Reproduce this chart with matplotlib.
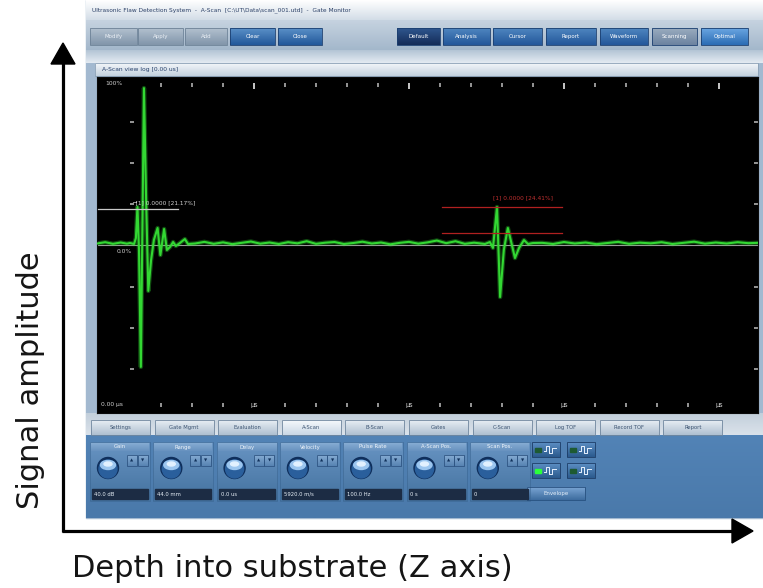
import numpy as np
import matplotlib
matplotlib.use("Agg")
import matplotlib.pyplot as plt
from matplotlib.patches import Rectangle, Circle, Ellipse, Polygon
from matplotlib.colors import LinearSegmentedColormap

# ---------------- data (A-scan trace, x in divisions, y in % amplitude) ----------------
pre_x = [-0.06, 0.20, 0.45, 0.70, 0.90, 1.00]
pre_y = [1.2, 2.0, 1.0, 1.8, 1.1, 1.5]

echo1_x = [1.13, 1.19, 1.24, 1.29, 1.35, 1.45, 1.52, 1.59, 1.68, 1.77, 1.89, 1.98,
           2.10, 2.19, 2.29, 2.39, 2.48, 2.61, 2.77, 2.87]
echo1_y = [0.9, 4.5, 23.3, -2.7, -73.5, 95.3, 27.5, -27.5, -8.8, 3.3, 10.6, -5.8,
           10.0, -2.7, -0.9, 2.1, -0.3, 1.5, 3.9, 0.9]

mid_x = [3.1, 3.4, 3.7, 4.0, 4.3, 4.6, 4.9, 5.2, 5.5, 5.8, 6.1, 6.4, 6.7, 7.0, 7.3, 7.6,
         7.9, 8.2, 8.5, 8.8, 9.1, 9.4, 9.7, 10.0, 10.3, 10.6, 10.9, 11.2, 11.5, 11.8, 12.1]
mid_y = [1.2, 2.2, 1.0, 1.9, 0.8, 1.6, 2.4, 1.1, 1.8, 0.9, 2.0, 1.3, 2.6, 1.0, 1.7, 2.1,
         0.9, 1.5, 2.3, 1.2, 1.8, 0.7, 1.6, 2.2, 1.1, 1.9, 3.0, 1.4, 2.6, 1.0, 1.7]

echo2_x = [12.45, 12.61, 12.71, 12.84, 12.94, 13.06, 13.19, 13.32, 13.42, 13.55, 13.71, 13.84, 14.00]
echo2_y = [0.9, 2.1, -1.5, 23.3, -31.2, -2.7, 10.6, 0.3, -7.6, -1.5, 3.3, 0.9, 1.5]

post_x = [14.30, 14.65, 15.00, 15.35, 15.70, 16.05, 16.40, 16.75, 17.10, 17.45, 17.80,
          18.15, 18.50, 18.85, 19.20, 19.55, 19.90, 20.25, 20.60, 20.95, 21.26]
post_y = [1.6, 0.9, 2.1, 1.2, 1.8, 0.8, 1.5, 2.2, 1.0, 1.7, 1.3, 2.0, 0.9, 1.6, 2.3,
          1.1, 1.8, 1.2, 2.0, 1.4, 1.6]

# gates: level (%), start, end (divisions)
gate1_level, gate1_start, gate1_end = 22.1, -0.03, 2.55
gate2_level, gate2_low, gate2_start, gate2_end = 23.3, 7.6, 11.06, 14.94
gate1_label = "\u2500[1] 0.0000 [21.17%]"
gate2_label = "[1] 0.0000 [24.41%]"

x_ticks = list(range(2, 21))
x_major = [5, 10, 15, 20]
y_ticks = [-75, -50, -25, 25, 50, 75]

tab_labels = ["Settings", "Gate Mgmt", "Evaluation", "A-Scan", "B-Scan", "Gates",
              "C-Scan", "Log TOF", "Record TOF", "Report"]
knob_labels = ["Gain", "Range", "Delay", "Velocity", "Pulse Rate", "A-Scan Pos.", "Scan Pos."]
knob_values = ["40.0 dB", "44.0 mm", "0.0 us", "5920.0 m/s", "100.0 Hz", "0 s", "0"]
left_buttons = ["Modify", "Apply", "Add", "Clear", "Close"]
right_buttons = ["Default", "Analysis", "Cursor", "Report", "Waveform", "Scanning", "Optimal"]

# ---------------- figure ----------------
W, H = 763, 588
fig = plt.figure(figsize=(W / 100, H / 100), dpi=100)
fig.patch.set_facecolor("white")
bg = fig.add_axes([0, 0, 1, 1])
bg.axis("off")


def grad(x0, y0, x1, y1, c_top, c_bot, z=1):
    cmap = LinearSegmentedColormap.from_list("g", [c_top, c_bot])
    bg.imshow(np.linspace(0, 1, 64)[:, None], cmap=cmap, extent=(x0, x1, y1, y0),
              aspect="auto", origin="upper", zorder=z, interpolation="bilinear")


def box(x0, y0, x1, y1, c_top, c_bot, ec=None, z=2, lw=0.6):
    grad(x0, y0, x1, y1, c_top, c_bot, z)
    if ec:
        bg.add_patch(Rectangle((x0, y0), x1 - x0, y1 - y0, fill=False, ec=ec, lw=lw, zorder=z + 0.1))


# panel body
bg.add_patch(Rectangle((86, 0), W - 86, 518, color="#a3b9d0", zorder=0.5))
grad(86, 0, W, 20, "#ffffff", "#d3dde7", 1)
grad(86, 20, W, 50, "#c6d3e0", "#a3b7cb", 1)
grad(86, 50, W, 63, "#b3c4d5", "#e4ebf2", 1)
bg.text(92, 10, "Ultrasonic Flaw Detection System  -  A-Scan  [C:\\UT\\Data\\scan_001.utd]  -  Gate Monitor",
        fontsize=4.2, color="#2a3f66", va="center", zorder=5)

# top buttons
lb = [(90, 137), (138, 183), (185, 227), (230, 275), (278, 322)]
for i, ((a, b), t) in enumerate(zip(lb, left_buttons)):
    if i < 3:
        box(a, 28, b, 45, "#b3c1cf", "#8195aa", "#6d8297", 2)
        tc = "#e9eef4"
    else:
        box(a, 28, b, 45, "#5a90c8", "#22589a", "#1b3f70", 2)
        tc = "white"
    bg.text((a + b) / 2, 36.5, t, fontsize=4, color=tc, ha="center", va="center", zorder=4)

rb = [(397, 440), (443, 490), (493, 542), (546, 596), (600, 648), (652, 697), (701, 748)]
for i, ((a, b), t) in enumerate(zip(rb, right_buttons)):
    if i == 0:
        ct, cb = "#2f568e", "#142c58"
    elif i == 5:
        ct, cb = "#9aacbf", "#6c83a0"
    elif i == 6:
        ct, cb = "#6aa6e2", "#2b6cb4"
    else:
        ct, cb = "#4f86c0", "#23579a"
    box(a, 28, b, 45, ct, cb, "#1b3f70", 2)
    bg.text((a + b) / 2, 36.5, t, fontsize=4, color="white", ha="center", va="center", zorder=4)

# sub-title bar
box(95, 63, 758, 76, "#f4f7fa", "#c3d1de", "#8aa0b6", 2)
bg.text(102, 69.5, "A-Scan view log [0.00 us]", fontsize=4.3, color="#26406a", va="center", zorder=4)

# tabs row
grad(86, 413, W, 436, "#c3cfdb", "#dbe3eb", 1)
for i, t in enumerate(tab_labels):
    a = 91 + 63.6 * i
    if i == 3:
        box(a, 420, a + 59, 435, "#f6f9fc", "#c9d7e5", "#6f869e", 2)
    else:
        box(a, 420, a + 59, 435, "#e8eef4", "#aebfd0", "#6f869e", 2)
    bg.text(a + 29.5, 427.5, t, fontsize=3.8, color="#3c5472", ha="center", va="center", zorder=4)

# control panel
grad(86, 435, W, 518, "#5283b6", "#4a79aa", 1)
for i, (lab, val) in enumerate(zip(knob_labels, knob_values)):
    a = 90 + 63.3 * i
    box(a, 442, a + 60, 501, "#6894c3", "#44729f", "#3a6591", 2, lw=0.4)
    box(a + 1, 443, a + 59, 451, "#86acd3", "#6892bf", None, 2.2)
    bg.text(a + 30, 447, lab, fontsize=3.8, color="#eef4fa", ha="center", va="center", zorder=4)
    cx, cy = a + 18, 468
    bg.add_patch(Circle((cx, cy), 10.5, color="#0f2f5c", zorder=3))
    bg.add_patch(Circle((cx, cy + 1), 9, color="#2a5f9c", zorder=3.1))
    bg.add_patch(Ellipse((cx, cy - 3), 15, 9, color="#9cc6ef", zorder=3.2))
    bg.add_patch(Ellipse((cx, cy - 4), 8, 4, color="#e2f1ff", zorder=3.3))
    for j, s in enumerate(["\u25b2", "\u25bc"]):
        bx = a + 37 + j * 10.5
        box(bx, 455, bx + 10, 466, "#86acd3", "#5783b2", "#2e5583", 3)
        bg.text(bx + 5, 460.5, s, fontsize=3, color="#10305a", ha="center", va="center", zorder=4)
    bg.add_patch(Rectangle((a + 2, 489), 56, 10, color="#1c2c44", zorder=3))
    bg.text(a + 4, 494, val, fontsize=3.8, color="#e6eef6", va="center", zorder=4)

wave_boxes = [(532, 442), (567, 442), (532, 463), (567, 463)]
for k, (a, b) in enumerate(wave_boxes):
    box(a, b, a + 28, b + 15, "#5d8fc4", "#2b5a8d", "#1c3c66", 2)
    led = "#2bff3a" if k == 2 else "#1d5a32"
    bg.add_patch(Rectangle((a + 3, b + 6), 6, 4, color=led, zorder=3))
    wx = np.array([a + 12, a + 14, a + 14, a + 17, a + 17, a + 20, a + 20, a + 24])
    wy = np.array([b + 9, b + 9, b + 4, b + 4, b + 11, b + 11, b + 6, b + 6])
    bg.plot(wx, wy, color="#e8f2ff", lw=0.7, zorder=4)
box(527, 487, 585, 500, "#7aa5d3", "#3d6c9f", "#27507f", 2)
bg.text(556, 493.5, "Envelope", fontsize=4, color="#e2edf8", ha="center", va="center", zorder=4)

# ---------------- big axis arrows and labels ----------------
bg.plot([63, 63], [532, 60], color="black", lw=2.3, solid_capstyle="butt", zorder=6)
bg.add_patch(Polygon([(51, 64), (75, 64), (63, 43)], closed=True, color="black", zorder=6))
bg.plot([62, 735], [531, 531], color="black", lw=2.3, solid_capstyle="butt", zorder=6)
bg.add_patch(Polygon([(732, 519), (732, 543), (753, 531)], closed=True, color="black", zorder=6))
bg.text(72, 577, "Depth into substrate (Z axis)", fontsize=22, color="#151515",
        ha="left", va="baseline", family="DejaVu Sans", zorder=6)
bg.text(31, 380, "Signal amplitude", fontsize=22, color="#151515", rotation=90,
        ha="center", va="center", family="DejaVu Sans", zorder=6)

bg.set_xlim(0, W)
bg.set_ylim(H, 0)

# ---------------- A-scan plot ----------------
ax = fig.add_axes([97 / W, 1 - 413 / H, 661 / W, 336 / H])
ax.set_facecolor("black")
ax.set_xlim(-0.065, 21.26)
ax.set_ylim(-101.4, 102)
ax.set_xticks([])
ax.set_yticks([])
for s in ax.spines.values():
    s.set_color("#0a0a0a")

trace_x = pre_x + echo1_x + mid_x + echo2_x + post_x
trace_y = pre_y + echo1_y + mid_y + echo2_y + post_y

ax.axhline(0, color="#9a9a9a", lw=0.8, zorder=1)
ax.plot(trace_x, trace_y, color="#2fd62f", lw=3.2, alpha=0.35, zorder=2)
ax.plot(trace_x, trace_y, color="#33d833", lw=1.5, zorder=3)

ax.plot([gate1_start, gate1_end], [gate1_level, gate1_level], color="#c8c8c8", lw=0.9, zorder=4)
ax.text(1.06, 25.7, gate1_label, fontsize=4.2, color="#d0d0d0", va="center", zorder=5)
ax.plot([gate2_start, gate2_end], [gate2_level, gate2_level], color="#b02020", lw=0.9, zorder=4)
ax.plot([gate2_start, gate2_end], [gate2_low, gate2_low], color="#b02020", lw=0.9, zorder=4)
ax.text(12.71, 28.8, gate2_label, fontsize=4.2, color="#c03030", va="center", zorder=5)

minor = [k for k in x_ticks if k not in x_major]
ax.plot(minor, [97.1] * len(minor), ls="none", marker="|", ms=2.5, mew=1.2, color="#b0b0b0")
ax.plot(x_major, [96.8] * len(x_major), ls="none", marker="|", ms=4, mew=1.4, color="#c8c8c8")
ax.plot(minor, [-96.5] * len(minor), ls="none", marker="|", ms=2.5, mew=1.2, color="#b0b0b0")
ax.plot([1.06] * len(y_ticks), y_ticks, ls="none", marker="_", ms=2.5, mew=1.2, color="#b0b0b0")
ax.plot([21.19] * len(y_ticks), y_ticks, ls="none", marker="_", ms=2.5, mew=1.2, color="#b0b0b0")

ax.text(0.19, 97.8, "100%", fontsize=4.3, color="#d0d0d0", va="center")
ax.text(0.58, -3.6, "0.0%", fontsize=4.3, color="#d0d0d0", va="center")
ax.text(0.05, -96.5, "0.00 \u00b5s", fontsize=4.3, color="#d0d0d0", va="center")
for k in x_major:
    ax.text(k, -96.5, "\u00b5s", fontsize=4.8, color="#d0d0d0", ha="center", va="center")

fig.savefig("out.png", dpi=100)
